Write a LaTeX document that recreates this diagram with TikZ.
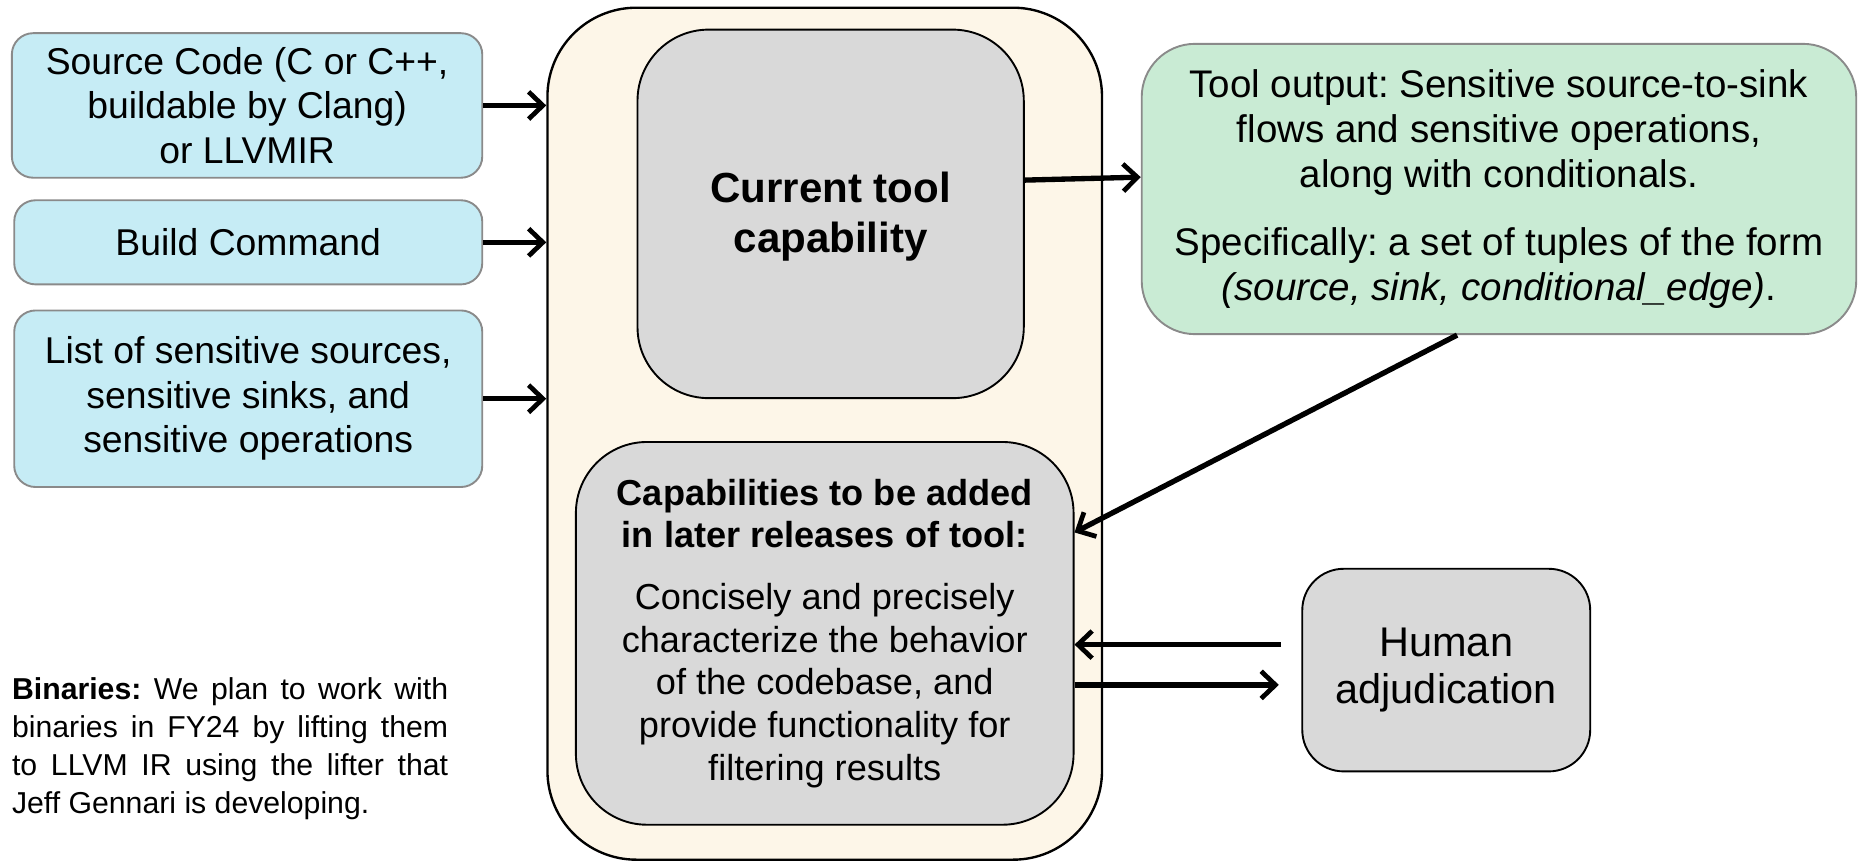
\documentclass[tikz,border=0pt]{standalone}
\usepackage{fontspec}
\setmainfont{Liberation Sans}
\usetikzlibrary{arrows.meta}
\definecolor{blueF}{HTML}{C6ECF5}
\definecolor{greenF}{HTML}{C9EBD4}
\definecolor{creamF}{HTML}{FDF6E8}
\definecolor{grayF}{HTML}{D9D9D9}
\definecolor{edgeG}{HTML}{8A8A8A}
\frenchspacing
\begin{document}
\begin{tikzpicture}[x=1pt,y=-1pt,
 inbox/.style={draw=edgeG, line width=1.6pt, fill=blueF, rounded corners=18pt, inner sep=0pt, align=center, font=\fontsize{31.5}{37.5}\selectfont},
 graybox/.style={draw=black, line width=1.6pt, fill=grayF, inner sep=0pt, align=center},
 arr/.style={line width=4.5pt, -{Straight Barb[length=12pt,width=23pt,line width=4pt]}},
]
\useasboundingbox (0,0) rectangle (1568,727);

% container
\node[draw=black, line width=2pt, fill=creamF, rounded corners=75pt, minimum width=468pt, minimum height=719pt, inner sep=0pt] (big) at (696,366) {};

\node[graybox, rounded corners=60pt, minimum width=326pt, minimum height=311pt, font=\fontsize{35.5}{42}\selectfont\bfseries] (cur) at (701,180.5) {\\[-11pt]Current tool\\capability};

\node[graybox, rounded corners=60pt, minimum width=420pt, minimum height=323pt, font=\fontsize{30.5}{36}\selectfont] (later) at (696,534.5)
 {\textbf{Capabilities to be added}\\\textbf{in later releases of tool:}\\[16pt]
  Concisely and precisely\\characterize the behavior\\of the codebase, and\\provide functionality for\\filtering results};

% inputs
\node[inbox, minimum width=397pt, minimum height=122pt] (src) at (208.5,89) {Source Code (C or C++,\\buildable by Clang)\\or LLVMIR};
\node[inbox, minimum width=395pt, minimum height=71pt] (bld) at (209.5,204.5) {Build Command};
\node[inbox, minimum width=395pt, minimum height=149pt] (lst) at (209.5,336.5) {List of sensitive sources,\\sensitive sinks, and\\sensitive operations};

% output
\node[draw=edgeG, line width=1.6pt, fill=greenF, rounded corners=45pt, minimum width=603pt, minimum height=245pt, inner sep=0pt, align=center, font=\fontsize{32.5}{38}\selectfont] (out) at (1265,159.5)
 {Tool output: Sensitive source-to-sink\\flows and sensitive operations,\\along with conditionals.\\[19pt]
  Specifically: a set of tuples of the form\\\textit{(source, sink, conditional\_edge)}.};

% human
\node[graybox, rounded corners=35pt, minimum width=243pt, minimum height=171pt, font=\fontsize{35}{40}\selectfont] (hum) at (1220.5,565.5) {Human\\adjudication};

% note
\node[anchor=north west, inner sep=0pt, text width=368pt, align=justify, font=\fontsize{25.5}{32}\selectfont] (bin) at (10,572)
 {\textbf{Binaries:} We plan to work with\linebreak binaries in FY24 by lifting them\linebreak to LLVM IR using the lifter that\linebreak Jeff Gennari is developing.};

% connectors
\draw[arr] (src.east) -- (src.east -| big.west);
\draw[arr] (bld.east) -- (bld.east -| big.west);
\draw[arr] (lst.east) -- (lst.east -| big.west);
\draw[arr] ([yshift=28.5pt]cur.east) -- ([yshift=10pt]out.west);
\draw[arr] (out.-106.8) -- (later.22);
\draw[arr] ([shift={(-17pt,21.5pt)}]hum.west) -- ([yshift=21.5pt]later.east |- hum.west);
\draw[arr] ([yshift=-12.5pt]later.east |- hum.west) -- ([shift={(-19pt,-12.5pt)}]hum.west);
\end{tikzpicture}
\end{document}
